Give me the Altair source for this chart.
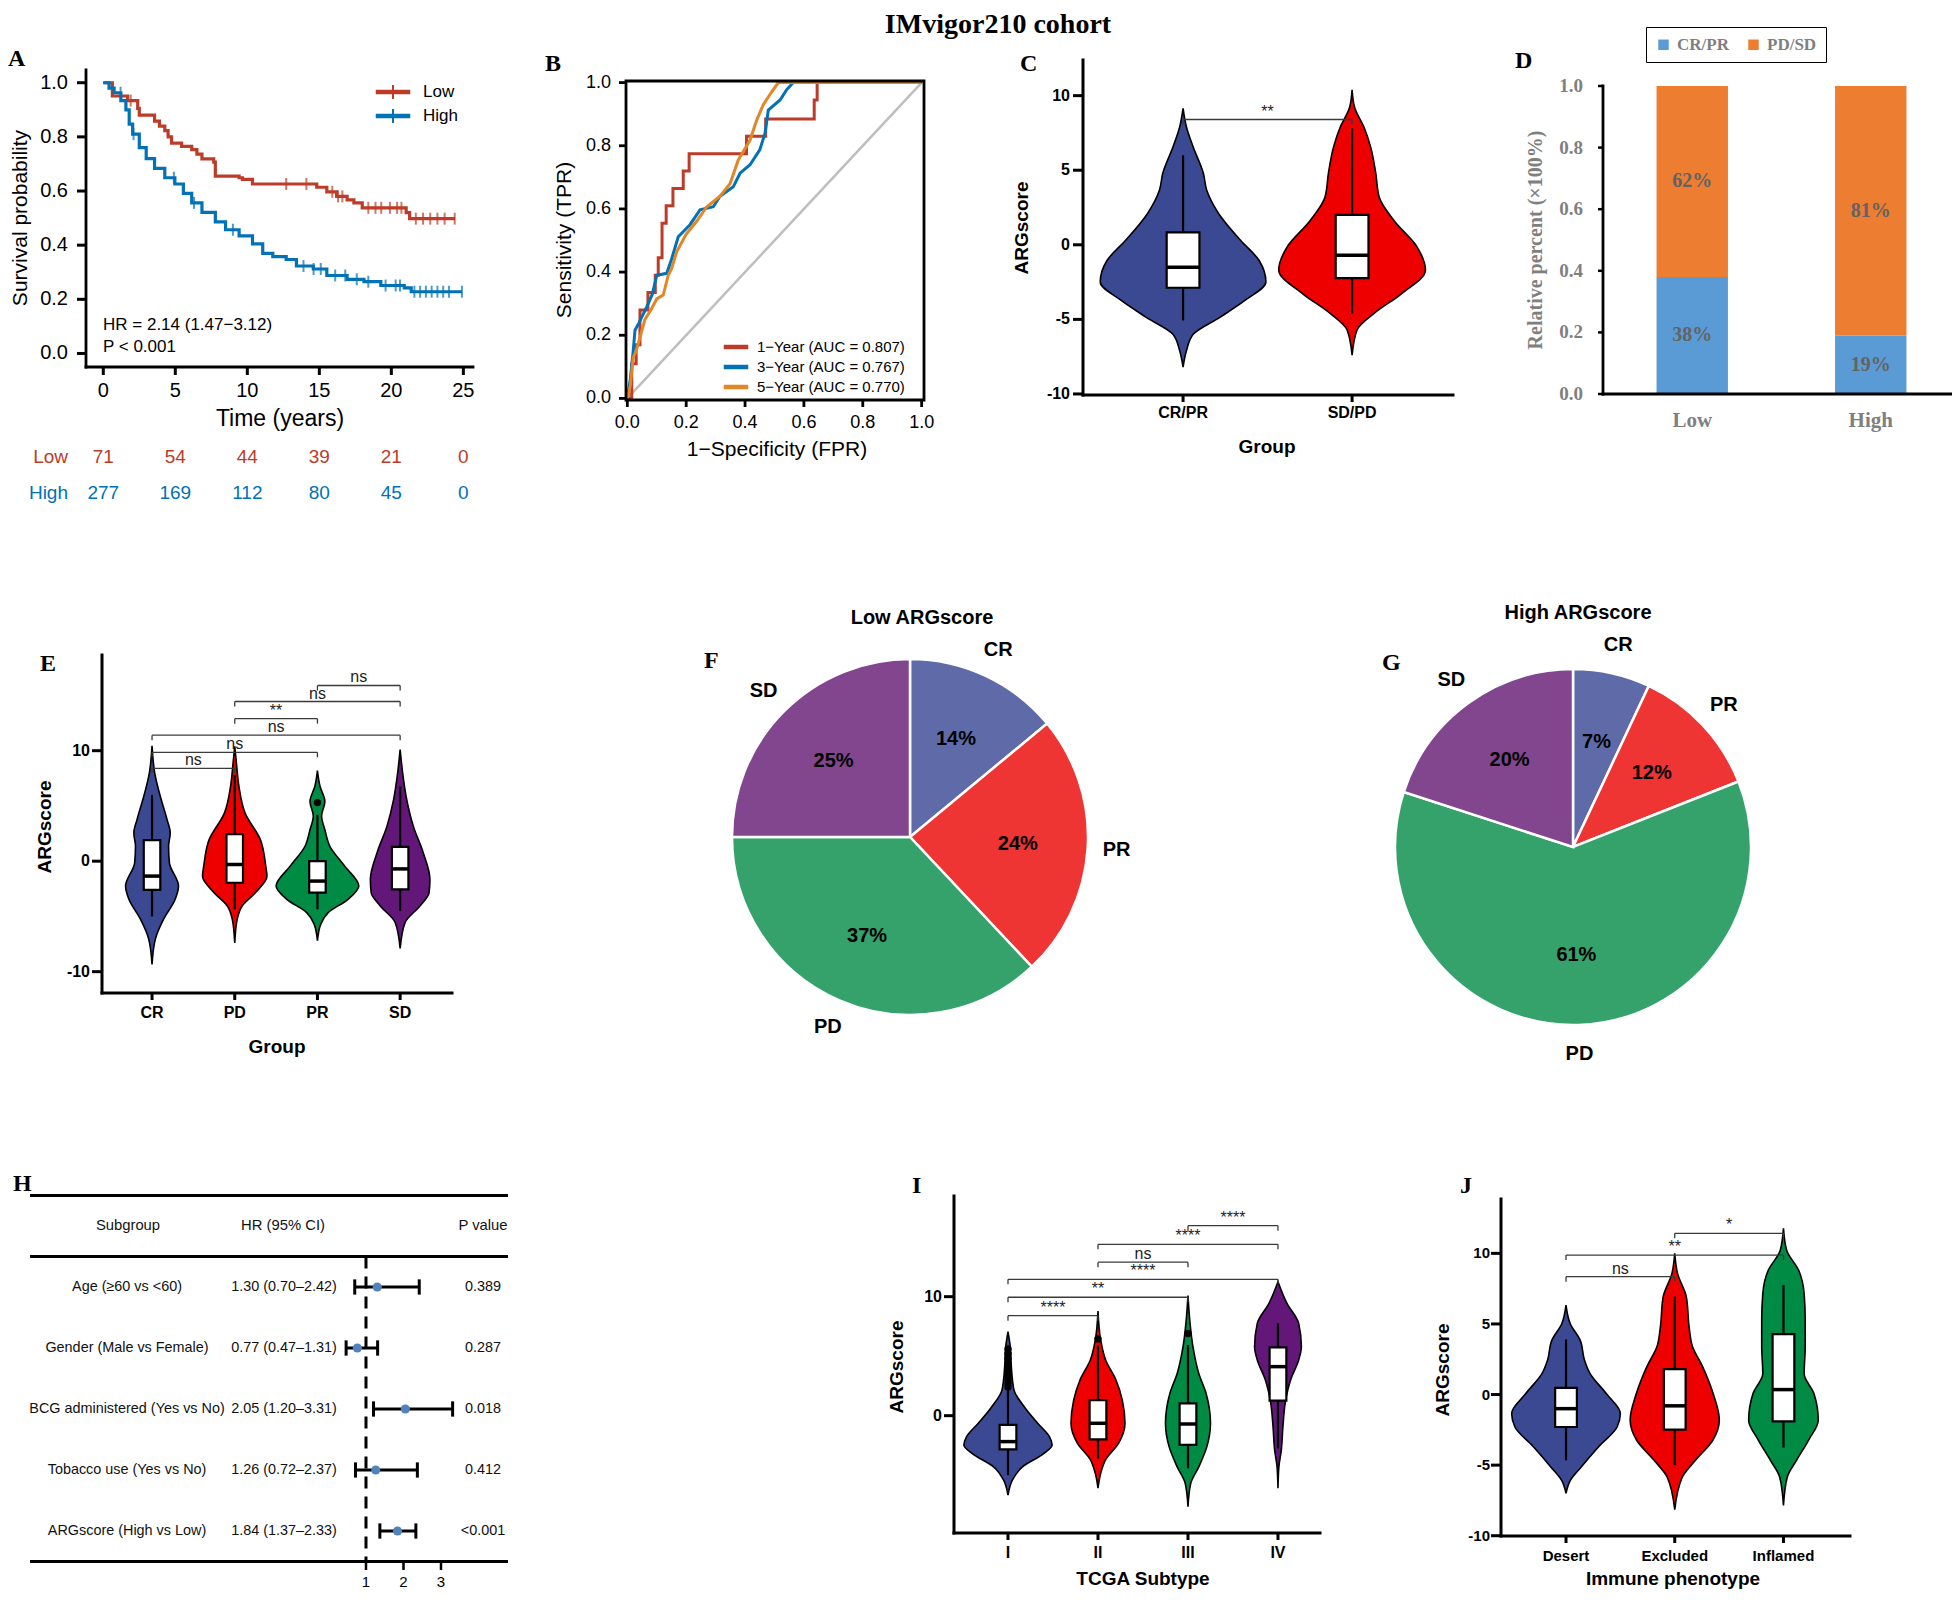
import altair as alt
import pandas as pd

W, H = 1944, 1584
M = 8


def cx(p):
    return p - M


def cy(p):
    return p - M


SANS = "Liberation Sans, Arial, sans-serif"
SERIF = "Liberation Serif, Times New Roman, serif"

# ---------------- A: Kaplan-Meier ----------------
km_low_t = [0, 0.63, 1.69, 2.39, 2.5, 3.56, 3.9, 4.27, 4.5, 4.74, 5.44, 6.14, 6.5, 6.85, 7.67, 7.78, 9.43,
            9.66, 10.36, 14.82, 15.52, 16.2, 16.93, 17.4, 17.98, 21.03, 21.27, 24.43]
km_low_s = [1.0, 0.951, 0.934, 0.905, 0.88, 0.858, 0.84, 0.823, 0.8, 0.777, 0.765, 0.753, 0.736, 0.719, 0.707,
            0.655, 0.649, 0.643, 0.626, 0.614, 0.597, 0.58, 0.567, 0.556, 0.538, 0.52, 0.498, 0.498]
km_high_t = [0, 0.4, 0.75, 1.22, 1.57, 1.8, 2.04, 2.5, 2.98, 3.56, 4.27, 4.97, 5.56, 6.14, 6.85, 7.78, 8.49, 9.43,
             10.36, 11.07, 11.77, 12.7, 13.41, 14.58, 15.52, 16.93, 18.1, 19.27, 20.9, 21.38, 24.9]
km_high_s = [1.0, 0.98, 0.963, 0.934, 0.9, 0.847, 0.81, 0.76, 0.72, 0.684, 0.649, 0.626, 0.591, 0.556, 0.521, 0.486,
             0.457, 0.434, 0.405, 0.37, 0.358, 0.347, 0.323, 0.312, 0.288, 0.274, 0.265, 0.251, 0.242, 0.228, 0.228]
km_low_cens = [1.9, 12.7, 14.1, 15.9, 16.3, 16.6, 18.4, 18.9, 19.3, 19.9, 20.4, 20.7, 21.7, 22.2, 22.7, 23.2,
               23.7, 24.4]
km_high_cens = [1.2, 2.1, 4.9, 6.3, 9.0, 13.9, 14.6, 15.1, 16.1, 16.8, 17.6, 18.4, 19.6, 20.3, 20.6, 21.6, 22.0,
                22.4, 22.8, 23.2, 23.6, 24.0, 24.9]
risk_times = [0, 5, 10, 15, 20, 25]
risk_low = [71, 54, 44, 39, 21, 0]
risk_high = [277, 169, 112, 80, 45, 0]
km_groups = ["Low", "High"]
km_colors = ["#BC3C29", "#0072B5"]
a_xticks = [0, 5, 10, 15, 20, 25]
a_xlabels = ["0", "5", "10", "15", "20", "25"]
a_yticks = [0, 0.2, 0.4, 0.6, 0.8, 1.0]
a_ylabels = ["0.0", "0.2", "0.4", "0.6", "0.8", "1.0"]

# ---------------- B: ROC ----------------
roc_labels = ["1\u2212Year (AUC = 0.807)", "3\u2212Year (AUC = 0.767)", "5\u2212Year (AUC = 0.770)"]
roc_colors = ["#BC3C29", "#0072B5", "#E18727"]
roc1_fpr = [0, 0.015, 0.015, 0.03, 0.03, 0.043, 0.043, 0.07, 0.07, 0.095, 0.095, 0.105, 0.105, 0.118, 0.118,
            0.132, 0.132, 0.155, 0.155, 0.19, 0.19, 0.21, 0.21, 0.405, 0.405, 0.47, 0.47, 0.635, 0.635, 0.645,
            0.645, 1.0]
roc1_tpr = [0, 0, 0.11, 0.11, 0.17, 0.17, 0.28, 0.28, 0.335, 0.335, 0.39, 0.39, 0.445, 0.445, 0.555, 0.555,
            0.61, 0.61, 0.665, 0.665, 0.72, 0.72, 0.775, 0.775, 0.83, 0.83, 0.885, 0.885, 0.945, 0.945, 1.0, 1.0]
roc3_fpr = [0, 0.01, 0.02, 0.026, 0.04, 0.066, 0.085, 0.1, 0.134, 0.15, 0.173, 0.213, 0.247, 0.292, 0.315, 0.36,
            0.383, 0.417, 0.45, 0.468, 0.479, 0.519, 0.541, 0.564, 1.0]
roc3_tpr = [0, 0.06, 0.15, 0.216, 0.24, 0.29, 0.33, 0.39, 0.396, 0.44, 0.512, 0.55, 0.597, 0.607, 0.64, 0.67,
            0.713, 0.74, 0.787, 0.84, 0.913, 0.945, 0.977, 1.0, 1.0]
roc5_fpr = [0, 0.01, 0.02, 0.03, 0.045, 0.06, 0.08, 0.1, 0.122, 0.139, 0.15, 0.168, 0.2, 0.235, 0.27, 0.315,
            0.349, 0.377, 0.417, 0.44, 0.462, 0.49, 0.513, 1.0]
roc5_tpr = [0, 0.04, 0.13, 0.15, 0.2, 0.25, 0.28, 0.315, 0.327, 0.39, 0.41, 0.465, 0.52, 0.56, 0.607, 0.64, 0.68,
            0.755, 0.818, 0.882, 0.93, 0.97, 1.0, 1.0]
b_ticks = [0, 0.2, 0.4, 0.6, 0.8, 1.0]
b_labels = ["0.0", "0.2", "0.4", "0.6", "0.8", "1.0"]

# ---------------- violin palettes ----------------
AAAS = ["#3B4992", "#EE0000", "#008B45", "#631879"]

# ---------------- C ----------------
c_cats = ["CR/PR", "SD/PD"]
c_v_y = [[9.15, 7.9, 6.55, 4.8, 3.65, 2.1, 0.3, -1.05, -2.5, -3.7, -4.85, -6.0, -7.1, -8.2],
         [10.4, 9.2, 7.9, 6.55, 4.8, 3.2, 1.6, -0.15, -1.7, -3.3, -4.6, -5.7, -7.4]]
c_v_w = [[0, 0.02, 0.06, 0.12, 0.14, 0.21, 0.34, 0.45, 0.49, 0.37, 0.22, 0.06, 0.02, 0],
         [0, 0.015, 0.07, 0.11, 0.14, 0.16, 0.25, 0.385, 0.434, 0.29, 0.13, 0.03, 0]]
c_q1 = [-2.88, -2.23]
c_med = [-1.5, -0.7]
c_q3 = [0.83, 2.0]
c_lo = [-5.07, -4.6]
c_hi = [6.0, 7.8]
c_b_from = [1]
c_b_to = [2]
c_b_lev = [8.4]
c_b_lab = ["**"]
c_yticks = [-10, -5, 0, 5, 10]
c_ylabels = ["-10", "-5", "0", "5", "10"]

# ---------------- D ----------------
d_groups = ["Low", "High"]
d_resp = ["CR/PR", "PD/SD"]
d_low = [0.38, 0.62]
d_high = [0.19, 0.81]
d_colors = ["#5B9BD5", "#ED7D31"]
d_yticks = [0, 0.2, 0.4, 0.6, 0.8, 1.0]
d_ylabels = ["0.0", "0.2", "0.4", "0.6", "0.8", "1.0"]

# ---------------- E ----------------
e_cats = ["CR", "PD", "PR", "SD"]
e_v_y = [[10.45, 8.0, 5.6, 3.8, 2.55, 1.35, -0.15, -2.25, -3.45, -5.25, -7.05, -9.35],
         [10.4, 8.9, 6.8, 4.35, 1.95, -0.45, -1.35, -2.85, -4.05, -5.25, -7.4],
         [8.2, 6.8, 5.4, 4.1, 2.85, 1.35, -0.45, -2.25, -3.45, -4.65, -5.7, -7.2],
         [10.1, 8.0, 5.55, 3.15, 0.75, -1.65, -2.85, -4.05, -5.55, -7.9]]
e_v_w = [[0, 0.032, 0.11, 0.18, 0.22, 0.2, 0.21, 0.32, 0.28, 0.14, 0.04, 0],
         [0, 0.02, 0.05, 0.125, 0.31, 0.375, 0.39, 0.25, 0.09, 0.03, 0],
         [0, 0.03, 0.09, 0.05, 0.09, 0.15, 0.33, 0.5, 0.37, 0.13, 0.04, 0],
         [0, 0.03, 0.08, 0.16, 0.28, 0.36, 0.35, 0.24, 0.06, 0]]
e_q1 = [-2.6, -1.95, -2.85, -2.55]
e_med = [-1.35, -0.3, -1.8, -0.7]
e_q3 = [1.9, 2.45, 0.0, 1.3]
e_lo = [-5.0, -4.35, -4.35, -4.5]
e_hi = [6.0, 7.8, 4.2, 6.75]
e_out_pos = [3]
e_out_val = [5.3]
e_b_from = [1, 1, 1, 2, 2, 3]
e_b_to = [2, 3, 4, 3, 4, 4]
e_b_lev = [8.4, 9.85, 11.4, 12.9, 14.45, 15.9]
e_b_lab = ["ns", "ns", "ns", "**", "ns", "ns"]
e_yticks = [-10, 0, 10]
e_ylabels = ["-10", "0", "10"]

# ---------------- F / G ----------------
pie_cats = ["CR", "PR", "PD", "SD"]
pie_colors = ["#5F6BA8", "#EF3434", "#35A26B", "#82468F"]
pie_low = [14, 24, 37, 25]
pie_high = [7, 12, 61, 20]

# ---------------- H ----------------
h_sub = ["Age (\u226560 vs <60)", "Gender (Male vs Female)", "BCG administered (Yes vs No)",
         "Tobacco use (Yes vs No)", "ARGscore (High vs Low)"]
h_hrtxt = ["1.30 (0.70\u20132.42)", "0.77 (0.47\u20131.31)", "2.05 (1.20\u20133.31)", "1.26 (0.72\u20132.37)",
           "1.84 (1.37\u20132.33)"]
h_p = ["0.389", "0.287", "0.018", "0.412", "<0.001"]
h_hr = [1.30, 0.77, 2.05, 1.26, 1.84]
h_lo = [0.70, 0.47, 1.20, 0.72, 1.37]
h_hi = [2.42, 1.31, 3.31, 2.37, 2.33]
h_xticks = [1, 2, 3]
h_xlabels = ["1", "2", "3"]

# ---------------- I ----------------
i_cats = ["I", "II", "III", "IV"]
i_v_y = [[7.06, 5.8, 4.1, 2.15, 0.75, -0.64, -1.76, -2.46, -3.17, -4.3, -5.4, -6.67],
         [8.8, 6.36, 4.68, 3.0, 1.3, -0.64, -2.3, -3.7, -4.85, -6.1],
         [10.1, 8.0, 5.8, 3.55, 1.9, -0.64, -2.6, -4.3, -5.7, -7.65],
         [11.26, 9.44, 7.76, 5.8, 4.68, 3.0, 1.04, -0.92, -2.9, -4.3, -6.1]]
i_v_w = [[0, 0.025, 0.037, 0.067, 0.18, 0.33, 0.46, 0.49, 0.4, 0.16, 0.05, 0],
         [0, 0.03, 0.085, 0.2, 0.27, 0.3, 0.23, 0.085, 0.03, 0],
         [0, 0.02, 0.055, 0.12, 0.2, 0.25, 0.21, 0.12, 0.03, 0],
         [0, 0.1, 0.23, 0.26, 0.23, 0.14, 0.08, 0.055, 0.037, 0.01, 0]]
i_q1 = [-2.83, -2.0, -2.46, 1.26]
i_med = [-2.18, -0.64, -0.7, 4.12]
i_q3 = [-0.78, 1.3, 1.04, 5.74]
i_lo = [-5.0, -3.6, -4.43, -2.75]
i_hi = [2.15, 5.9, 5.94, 7.76]
i_out_pos = [1, 1, 1, 1, 1, 1, 1, 1, 1, 1, 2, 3]
i_out_val = [2.4, 2.7, 3.0, 3.3, 3.6, 4.0, 4.4, 4.8, 5.2, 5.6, 6.45, 6.9]
i_b_from = [1, 1, 1, 2, 2, 3]
i_b_to = [2, 3, 4, 3, 4, 4]
i_b_lev = [8.4, 9.95, 11.46, 12.9, 14.4, 15.97]
i_b_lab = ["****", "**", "****", "ns", "****", "****"]
i_yticks = [0, 10]
i_ylabels = ["0", "10"]

# ---------------- J ----------------
j_cats = ["Desert", "Excluded", "Inflamed"]
j_v_y = [[6.34, 5.0, 3.85, 2.43, 1.5, 0.07, -1.35, -2.3, -3.7, -5.13, -6.08, -7.0],
         [10.0, 8.6, 6.9, 4.8, 3.4, 2.0, 0.07, -1.8, -3.24, -4.66, -5.84, -8.16],
         [11.77, 10.2, 8.8, 7.16, 5.27, 3.38, 1.49, 0.07, -1.82, -3.24, -4.66, -5.84, -7.85]]
j_v_w = [[0, 0.04, 0.13, 0.17, 0.22, 0.37, 0.5, 0.47, 0.3, 0.14, 0.04, 0],
         [0, 0.025, 0.107, 0.132, 0.163, 0.255, 0.353, 0.41, 0.35, 0.19, 0.07, 0],
         [0, 0.03, 0.14, 0.19, 0.2, 0.2, 0.19, 0.28, 0.32, 0.23, 0.12, 0.035, 0]]
j_q1 = [-2.3, -2.48, -1.9]
j_med = [-1.0, -0.8, 0.35]
j_q3 = [0.47, 1.8, 4.28]
j_lo = [-4.66, -5.0, -3.76]
j_hi = [3.9, 6.93, 7.75]
j_b_from = [1, 1, 2]
j_b_to = [2, 3, 3]
j_b_lev = [8.35, 9.88, 11.42]
j_b_lab = ["ns", "**", "*"]
j_yticks = [-10, -5, 0, 5, 10]
j_ylabels = ["-10", "-5", "0", "5", "10"]


# ================= helpers =================
def one():
    return alt.Data(values=[{}])


def txt(s, x, y, size, font=SANS, weight="normal", align="left", color="black", baseline="alphabetic", angle=0):
    return alt.Chart(one()).mark_text(text=s, align=align, baseline=baseline, fontSize=size, font=font,
                                      fontWeight=weight, color=color, angle=angle).encode(
        x=alt.value(x), y=alt.value(y))


def hline(x0, x1, y, color="black", width=3):
    return alt.Chart(one()).mark_rule(color=color, strokeWidth=width, strokeCap="square").encode(
        x=alt.value(cx(x0)), x2=alt.value(cx(x1)), y=alt.value(cy(y)))


def vline(x, y0, y1, color="black", width=3):
    return alt.Chart(one()).mark_rule(color=color, strokeWidth=width, strokeCap="square").encode(
        x=alt.value(cx(x)), y=alt.value(cy(y0)), y2=alt.value(cy(y1)))


def lin(domain, r0, r1):
    return alt.Scale(domain=domain, range=[r0, r1], nice=False, zero=False)


def step_at(ts, ss, c):
    v = ss[0]
    for t, s in zip(ts, ss):
        if t <= c:
            v = s
    return v


def ax_bottom(scale, vals, labs, y, x0, x1, lab_y, ftype="Q", tick=7, dw=3, tw=3, domain=True, ticks=True,
              lsize=16, lfont=SANS, lweight="bold", lcolor="black",
              title=None, tx=0, ty=0, tsize=19, tfont=SANS, tweight="bold", tcolor="black"):
    out = []
    df = pd.DataFrame(dict(v=vals, lab=labs))
    ex = alt.X("v:" + ftype, scale=scale, axis=None)
    if domain:
        out.append(hline(x0, x1, y, width=dw))
    if ticks:
        out.append(alt.Chart(df).mark_rule(color="black", strokeWidth=tw).encode(
            x=ex, y=alt.value(cy(y)), y2=alt.value(cy(y) + tick)))
    out.append(alt.Chart(df).mark_text(align="center", baseline="middle", fontSize=lsize, font=lfont,
                                       fontWeight=lweight, color=lcolor).encode(
        x=ex, y=alt.value(cy(lab_y)), text="lab:N"))
    if title:
        out.append(txt(title, cx(tx), cy(ty), tsize, font=tfont, weight=tweight, align="center", color=tcolor,
                       baseline="middle"))
    return out


def ax_left(scale, vals, labs, x, y0, y1, lab_x, tick=9, dw=3, tw=3, domain=True,
            lsize=16, lfont=SANS, lweight="bold", lcolor="black",
            title=None, tx=0, ty=0, tsize=19, tfont=SANS, tweight="bold", tcolor="black"):
    out = []
    df = pd.DataFrame(dict(v=vals, lab=labs))
    ey = alt.Y("v:Q", scale=scale, axis=None)
    if domain:
        out.append(vline(x, y0, y1, width=dw))
    out.append(alt.Chart(df).mark_rule(color="black", strokeWidth=tw).encode(
        y=ey, x=alt.value(cx(x) - tick), x2=alt.value(cx(x))))
    out.append(alt.Chart(df).mark_text(align="right", baseline="middle", fontSize=lsize, font=lfont,
                                       fontWeight=lweight, color=lcolor).encode(
        y=ey, x=alt.value(cx(lab_x)), text="lab:N"))
    if title:
        out.append(txt(title, cx(tx), cy(ty), tsize, font=tfont, weight=tweight, align="center", color=tcolor,
                       baseline="middle", angle=270))
    return out


# ================= Panel A =================
def panel_a():
    xs = lin([-1.2, 25.67], cx(86), cx(473))
    ys = lin([-0.05, 1.047], cy(367), cy(70))
    rows = []
    for g, ts, ss in [("Low", km_low_t, km_low_s), ("High", km_high_t, km_high_s)]:
        for i, (t, s) in enumerate(zip(ts, ss)):
            rows.append(dict(grp=g, t=t, s=s, i=i))
    kdf = pd.DataFrame(rows)
    crow = []
    for g, ts, ss, cs in [("Low", km_low_t, km_low_s, km_low_cens), ("High", km_high_t, km_high_s, km_high_cens)]:
        for c in cs:
            crow.append(dict(grp=g, t=c, s=step_at(ts, ss, c)))
    cdf = pd.DataFrame(crow)
    cscale = alt.Scale(domain=km_groups, range=km_colors)
    lines = alt.Chart(kdf).mark_line(interpolate="step-after", strokeWidth=3.2).encode(
        x=alt.X("t:Q", scale=xs, axis=None), y=alt.Y("s:Q", scale=ys, axis=None),
        color=alt.Color("grp:N", scale=cscale, legend=None), order=alt.Order("i:Q"))
    cens = alt.Chart(cdf).mark_tick(orient="vertical", size=12, thickness=2).encode(
        x=alt.X("t:Q", scale=xs, axis=None), y=alt.Y("s:Q", scale=ys, axis=None),
        color=alt.Color("grp:N", scale=cscale, legend=None))
    rl = pd.DataFrame(dict(t=risk_times, n=risk_low))
    rh = pd.DataFrame(dict(t=risk_times, n=risk_high))
    risk_l = alt.Chart(rl).mark_text(fontSize=19, font=SANS, color=km_colors[0], baseline="middle").encode(
        x=alt.X("t:Q", scale=xs, axis=None), y=alt.value(cy(457)), text="n:Q")
    risk_h = alt.Chart(rh).mark_text(fontSize=19, font=SANS, color=km_colors[1], baseline="middle").encode(
        x=alt.X("t:Q", scale=xs, axis=None), y=alt.value(cy(493)), text="n:Q")
    layers = [lines, cens, risk_l, risk_h]
    layers += ax_bottom(xs, a_xticks, a_xlabels, 367, 86, 473, 391, tick=8, dw=2.8, tw=3, lsize=20,
                        lweight="normal", title="Time (years)", tx=280, ty=419, tsize=23, tweight="normal")
    layers += ax_left(ys, a_yticks, a_ylabels, 86, 367, 70, 68, tick=9, dw=2.8, tw=3, lsize=20, lweight="normal",
                      title="Survival probability", tx=21, ty=218, tsize=21, tweight="normal")
    for g, col, yy in [("Low", km_colors[0], 92), ("High", km_colors[1], 116)]:
        layers.append(hline(378, 408, yy, color=col, width=4.5))
        layers.append(vline(393, yy - 6, yy + 6, color=col, width=2))
        layers.append(txt(g, cx(423), cy(yy), 17, baseline="middle"))
    layers += [
        txt("Low", cx(68), cy(457), 19, align="right", color=km_colors[0], baseline="middle"),
        txt("High", cx(68), cy(493), 19, align="right", color=km_colors[1], baseline="middle"),
        txt("HR = 2.14 (1.47\u22123.12)", cx(103), cy(325), 17, baseline="middle"),
        txt("P < 0.001", cx(103), cy(347), 17, baseline="middle"),
    ]
    return alt.layer(*layers)


# ================= Panel B =================
def panel_b():
    xs = lin([-0.0045, 1.008], cx(626), cx(924))
    ys = lin([-0.005, 1.005], cy(400), cy(81))
    rows = []
    for lab, fx, ty in [(roc_labels[0], roc1_fpr, roc1_tpr), (roc_labels[1], roc3_fpr, roc3_tpr),
                        (roc_labels[2], roc5_fpr, roc5_tpr)]:
        for i, (a, b) in enumerate(zip(fx, ty)):
            rows.append(dict(curve=lab, fpr=a, tpr=b, i=i))
    rdf = pd.DataFrame(rows)
    diag = pd.DataFrame(dict(fpr=[0, 1], tpr=[0, 1]))
    dl = alt.Chart(diag).mark_line(color="#BEBEBE", strokeWidth=2.5).encode(
        x=alt.X("fpr:Q", scale=xs, axis=None), y=alt.Y("tpr:Q", scale=ys, axis=None))
    lines = alt.Chart(rdf).mark_line(strokeWidth=3).encode(
        x=alt.X("fpr:Q", scale=xs, axis=None), y=alt.Y("tpr:Q", scale=ys, axis=None),
        color=alt.Color("curve:N", scale=alt.Scale(domain=roc_labels, range=roc_colors), legend=None),
        detail="curve:N", order=alt.Order("i:Q"))
    frame = alt.Chart(one()).mark_rect(fillOpacity=0, stroke="black", strokeWidth=2.8).encode(
        x=alt.XDatum(-0.0045, type="quantitative", scale=xs, axis=None), x2=alt.X2Datum(1.008),
        y=alt.YDatum(-0.005, type="quantitative", scale=ys, axis=None), y2=alt.Y2Datum(1.005))
    layers = [dl, lines, frame]
    layers += ax_bottom(xs, b_ticks, b_labels, 400, 626, 924, 423, tick=7, tw=2.8, domain=False, lsize=18,
                        lweight="normal", title="1\u2212Specificity (FPR)", tx=777, ty=450, tsize=21,
                        tweight="normal")
    layers += ax_left(ys, b_ticks, b_labels, 626, 400, 81, 611, tick=7, tw=2.8, domain=False, lsize=18,
                      lweight="normal", title="Sensitivity (TPR)", tx=565, ty=240, tsize=21, tweight="normal")
    for lab, col, yy in zip(roc_labels, roc_colors, [347, 367, 387]):
        layers.append(hline(726, 746, yy, color=col, width=4.5))
        layers.append(txt(lab, cx(757), cy(yy), 15, baseline="middle"))
    return alt.layer(*layers)


# ================= violin panels =================
def violin_panel(cats, vy, vw, colors, q1, med, q3, lo, hi, out_pos, out_val, b_from, b_to, b_lev, b_lab,
                 xdom, xr, ydom, yr, yticks, ylabels, xtitle, ytitle, bw, xlab_y, xt_pos, ylab_x, yt_pos,
                 lab_size=16):
    n = len(cats)
    xs = lin(xdom, cx(xr[0]), cx(xr[1]))
    ys = lin(ydom, cy(yr[0]), cy(yr[1]))
    ppu = (yr[0] - yr[1]) / (ydom[1] - ydom[0])
    drop = 5.0 / ppu
    rows = []
    for i, (yy, ww) in enumerate(zip(vy, vw)):
        for a, b in zip(yy, ww):
            rows.append(dict(cat=cats[i], pos=i + 1, y=a, w=b))
    vdf = pd.DataFrame(rows)
    color = alt.Color("cat:N", scale=alt.Scale(domain=cats, range=colors), legend=None)
    violin = alt.Chart(vdf).transform_calculate(
        xl="datum.pos - datum.w", xh="datum.pos + datum.w"
    ).mark_area(orient="horizontal", interpolate="monotone", stroke="black", strokeWidth=1.6, opacity=1).encode(
        x=alt.X("xl:Q", scale=xs, axis=None, stack=None), x2="xh:Q",
        y=alt.Y("y:Q", scale=ys, axis=None), color=color, detail="cat:N")
    bdf = pd.DataFrame(dict(cat=cats, pos=list(range(1, n + 1)), q1=q1, med=med, q3=q3, lo=lo, hi=hi))
    bb = alt.Chart(bdf).transform_calculate(bl="datum.pos - %f" % bw, bh="datum.pos + %f" % bw)
    whisk = bb.mark_rule(color="black", strokeWidth=2.2).encode(
        x=alt.X("pos:Q", scale=xs, axis=None), y=alt.Y("lo:Q", scale=ys, axis=None), y2="hi:Q")
    box = bb.mark_rect(fill="white", stroke="black", strokeWidth=2.2).encode(
        x=alt.X("bl:Q", scale=xs, axis=None), x2="bh:Q", y=alt.Y("q1:Q", scale=ys, axis=None), y2="q3:Q")
    medl = bb.mark_rule(color="black", strokeWidth=3.5).encode(
        x=alt.X("bl:Q", scale=xs, axis=None), x2="bh:Q", y=alt.Y("med:Q", scale=ys, axis=None))
    layers = [violin, whisk, box, medl]
    if out_pos:
        odf = pd.DataFrame(dict(pos=out_pos, v=out_val))
        layers.append(alt.Chart(odf).mark_circle(color="black", size=55, opacity=1).encode(
            x=alt.X("pos:Q", scale=xs, axis=None), y=alt.Y("v:Q", scale=ys, axis=None)))
    kdf = pd.DataFrame(dict(a=b_from, b=b_to, lev=b_lev, lab=b_lab))
    kb = alt.Chart(kdf).transform_calculate(xm="(datum.a + datum.b) / 2", lt="datum.lev - %f" % drop)
    layers.append(kb.mark_rule(color="#3a3a3a", strokeWidth=1.3).encode(
        x=alt.X("a:Q", scale=xs, axis=None), x2="b:Q", y=alt.Y("lev:Q", scale=ys, axis=None)))
    layers.append(kb.mark_rule(color="#3a3a3a", strokeWidth=1.3).encode(
        x=alt.X("a:Q", scale=xs, axis=None), y=alt.Y("lev:Q", scale=ys, axis=None), y2="lt:Q"))
    layers.append(kb.mark_rule(color="#3a3a3a", strokeWidth=1.3).encode(
        x=alt.X("b:Q", scale=xs, axis=None), y=alt.Y("lev:Q", scale=ys, axis=None), y2="lt:Q"))
    layers.append(kb.mark_text(baseline="alphabetic", dy=-3, fontSize=16, font=SANS, color="#222222").encode(
        x=alt.X("xm:Q", scale=xs, axis=None), y=alt.Y("lev:Q", scale=ys, axis=None), text="lab:N"))
    layers += ax_bottom(xs, list(range(1, n + 1)), cats, yr[0], xr[0], xr[1], xlab_y, tick=7, lsize=lab_size,
                        title=xtitle, tx=xt_pos[0], ty=xt_pos[1])
    layers += ax_left(ys, yticks, ylabels, xr[0], yr[0], yr[1], ylab_x, tick=10, lsize=lab_size,
                      title=ytitle, tx=yt_pos[0], ty=yt_pos[1])
    return alt.layer(*layers)


# ================= Panel D =================
def panel_d():
    rows = []
    for g, vals in [("Low", d_low), ("High", d_high)]:
        for k, (r, v) in enumerate(zip(d_resp, vals)):
            rows.append(dict(grp=g, resp=r, v=v, k=k))
    ddf = pd.DataFrame(rows)
    xs = alt.Scale(domain=d_groups, range=[cx(1603), cx(1960)], paddingInner=0.6, paddingOuter=0.3)
    ys = lin([0, 1], cy(394), cy(86))
    gray = "#7F7F7F"
    leg = alt.Legend(orient="none", direction="horizontal", legendX=cx(1646), legendY=cy(27), title=None,
                     symbolType="square", symbolSize=110, symbolStrokeWidth=0, labelFont=SERIF,
                     labelFontWeight="bold", labelFontSize=17, labelColor=gray, labelOffset=5, columnPadding=16,
                     padding=9, strokeColor="black")
    base = alt.Chart(ddf).transform_stack(
        stack="v", groupby=["grp"], as_=["y0", "y1"], sort=[alt.SortField("k", order="ascending")]
    ).transform_calculate(mid="(datum.y0 + datum.y1) / 2", lab="round(datum.v * 100) + '%'")
    bars = base.mark_bar().encode(
        x=alt.X("grp:N", scale=xs, sort=d_groups, axis=None),
        y=alt.Y("y0:Q", scale=ys, axis=None), y2="y1:Q",
        color=alt.Color("resp:N", scale=alt.Scale(domain=d_resp, range=d_colors), legend=leg))
    labels = base.mark_text(font=SERIF, fontWeight="bold", fontSize=20, color="#636363", baseline="middle").encode(
        x=alt.X("grp:N", scale=xs, sort=d_groups, axis=None), y=alt.Y("mid:Q", scale=ys, axis=None),
        text="lab:N")
    layers = [bars, labels]
    layers += ax_bottom(xs, d_groups, d_groups, 394, 1603, 1960, 421, ftype="N", ticks=False, dw=2.8,
                        lsize=21, lfont=SERIF, lcolor=gray)
    layers += ax_left(ys, d_yticks, d_ylabels, 1603, 394, 86, 1583, tick=5, dw=2.8, tw=2.5, lsize=19,
                      lfont=SERIF, lcolor=gray, title="Relative percent (\u00d7100%)", tx=1536, ty=240, tsize=20,
                      tfont=SERIF, tcolor=gray)
    return alt.layer(*layers)


# ================= Pies =================
def pie(vals, pcx, pcy, title, tx, ty):
    df = pd.DataFrame(dict(cat=pie_cats, v=vals, k=list(range(len(vals)))))
    base = alt.Chart(df).encode(theta=alt.Theta("v:Q", stack=True), order=alt.Order("k:Q"),
                                x=alt.value(cx(pcx)), y=alt.value(cy(pcy)))
    arcs = base.mark_arc(outerRadius=178, stroke="white", strokeWidth=2.5).encode(
        color=alt.Color("cat:N", scale=alt.Scale(domain=pie_cats, range=pie_colors), legend=None))
    inner = base.transform_calculate(lab="datum.v + '%'").mark_text(
        radius=108, fontSize=20, fontWeight="bold", font=SANS, color="black").encode(text="lab:N")
    outer = base.mark_text(radius=207, fontSize=20, fontWeight="bold", font=SANS, color="black").encode(
        text="cat:N")
    return alt.layer(arcs, inner, outer, txt(title, tx, ty, 20, weight="bold", align="center"))


# ================= Panel H =================
def panel_h():
    xs = lin([-7.96, 4.787], cx(30), cx(508))
    ys = lin([-1.5, 4.5], cy(1195.5), cy(1561.5))
    hdf = pd.DataFrame(dict(row=list(range(5)), sub=h_sub, hrt=h_hrtxt, p=h_p, hr=h_hr, lo=h_lo, hi=h_hi))
    hb = alt.Chart(hdf).transform_calculate(yt="datum.row - 0.125", yb="datum.row + 0.125")
    layers = []
    for r in [-1.5, -0.5, 4.5]:
        layers.append(alt.Chart(one()).mark_rule(color="black", strokeWidth=3).encode(
            y=alt.YDatum(r, type="quantitative", scale=ys, axis=None), x=alt.value(cx(30)),
            x2=alt.value(cx(508))))
    layers.append(alt.Chart(one()).mark_rule(color="black", strokeWidth=3, strokeDash=[12, 8]).encode(
        x=alt.XDatum(1, type="quantitative", scale=xs, axis=None),
        y=alt.YDatum(-0.5, type="quantitative", scale=ys, axis=None), y2=alt.Y2Datum(4.5)))
    layers.append(hb.mark_rule(color="black", strokeWidth=3).encode(
        x=alt.X("lo:Q", scale=xs, axis=None), x2="hi:Q", y=alt.Y("row:Q", scale=ys, axis=None)))
    layers.append(hb.mark_rule(color="black", strokeWidth=3).encode(
        x=alt.X("lo:Q", scale=xs, axis=None), y=alt.Y("yt:Q", scale=ys, axis=None), y2="yb:Q"))
    layers.append(hb.mark_rule(color="black", strokeWidth=3).encode(
        x=alt.X("hi:Q", scale=xs, axis=None), y=alt.Y("yt:Q", scale=ys, axis=None), y2="yb:Q"))
    layers.append(hb.mark_circle(color="#5082BE", size=85, opacity=1).encode(
        x=alt.X("hr:Q", scale=xs, axis=None), y=alt.Y("row:Q", scale=ys, axis=None)))
    for field, px_ in [("sub", 127), ("hrt", 284), ("p", 483)]:
        layers.append(alt.Chart(hdf).mark_text(font=SANS, fontSize=14.4, color="#111111", baseline="middle").encode(
            x=alt.value(cx(px_)), y=alt.Y("row:Q", scale=ys, axis=None), text=field + ":N"))
    for s, px_ in [("Subgroup", 128), ("HR (95% CI)", 283), ("P value", 483)]:
        layers.append(alt.Chart(one()).mark_text(text=s, font=SANS, fontSize=14.8, color="#111111",
                                                 baseline="middle").encode(
            x=alt.value(cx(px_)), y=alt.YDatum(-1, type="quantitative", scale=ys, axis=None)))
    layers += ax_bottom(xs, h_xticks, h_xlabels, 1562, 30, 508, 1582, tick=8, tw=2.5, domain=False, lsize=15,
                        lweight="normal")
    return alt.layer(*layers)


A = panel_a()
B = panel_b()
C = violin_panel(c_cats, c_v_y, c_v_w, AAAS[:2], c_q1, c_med, c_q3, c_lo, c_hi, [], [], c_b_from, c_b_to,
                 c_b_lev, c_b_lab, [0.408, 2.597], (1083, 1453), [-10.07, 12.39], (395, 60),
                 c_yticks, c_ylabels, "Group", "ARGscore", 0.097, 413, (1267, 447), 1070, (1022, 228))
D = panel_d()
E = violin_panel(e_cats, e_v_y, e_v_w, AAAS, e_q1, e_med, e_q3, e_lo, e_hi, e_out_pos, e_out_val, e_b_from,
                 e_b_to, e_b_lev, e_b_lab, [0.395, 4.627], (102, 452), [-11.93, 18.66], (993, 655),
                 e_yticks, e_ylabels, "Group", "ARGscore", 0.1, 1013, (277, 1047), 90, (45, 827))
F = pie(pie_low, 910, 837, "Low ARGscore", cx(922), cy(624))
G = pie(pie_high, 1573, 847, "High ARGscore", cx(1578), cy(619))
Hp = panel_h()
I = violin_panel(i_cats, i_v_y, i_v_w, AAAS, i_q1, i_med, i_q3, i_lo, i_hi, i_out_pos, i_out_val, i_b_from,
                 i_b_to, i_b_lev, i_b_lab, [0.4, 4.467], (954, 1320), [-9.86, 18.46], (1533, 1196),
                 i_yticks, i_ylabels, "TCGA Subtype", "ARGscore", 0.093, 1553, (1143, 1579), 942, (897, 1367))
J = violin_panel(j_cats, j_v_y, j_v_w, AAAS[:3], j_q1, j_med, j_q3, j_lo, j_hi, [], [], j_b_from, j_b_to,
                 j_b_lev, j_b_lab, [0.402, 3.612], (1501, 1850), [-10.02, 13.85], (1536, 1199),
                 j_yticks, j_ylabels, "Immune phenotype", "ARGscore", 0.1, 1556, (1673, 1579), 1490, (1443, 1370),
                 lab_size=15)

letters = [("A", 0, 58), ("B", 537, 63), ("C", 1012, 63), ("D", 1507, 60), ("E", 32, 663), ("F", 696, 660),
           ("G", 1374, 662), ("H", 5, 1183), ("I", 904, 1185), ("J", 1452, 1185)]
deco = [txt("IMvigor210 cohort", cx(998), 25, 28, font=SERIF, weight="bold", align="center")]
for s, x, y in letters:
    deco.append(txt(s, x, y, 24, font=SERIF, weight="bold"))

chart = alt.layer(A, B, C, D, E, F, G, Hp, I, J, *deco).resolve_scale(
    x="independent", y="independent", color="independent", theta="independent"
).properties(
    width=W, height=H, autosize="none", padding=0, background="white"
).configure_view(stroke=None)

chart.save("out.html", embed_options={"renderer": "svg", "actions": False})
